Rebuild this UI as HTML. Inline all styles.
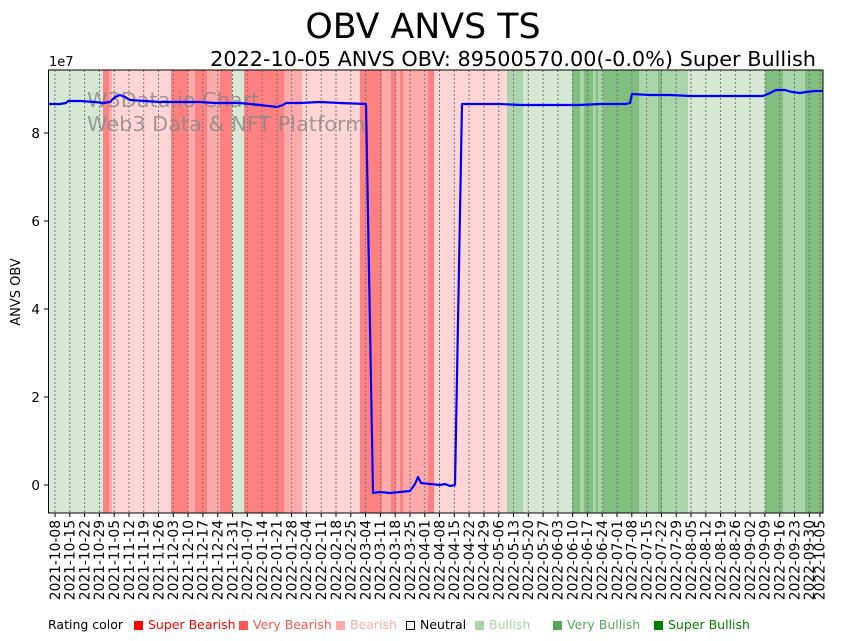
<!DOCTYPE html>
<html><head><meta charset="utf-8"><style>
html,body{margin:0;padding:0;background:#fff;}
svg{display:block;font-family:"DejaVu Sans","Liberation Sans",sans-serif;}
</style></head><body>
<svg width="842" height="641" viewBox="0 0 842 641" xmlns="http://www.w3.org/2000/svg">
<text x="423" y="38" font-size="34.8" text-anchor="middle">OBV ANVS TS</text>
<text x="816" y="66" font-size="20.8" text-anchor="end">2022-10-05 ANVS OBV: 89500570.00(-0.0%) Super Bullish</text>
<g>
<rect x="48" y="70" width="55" height="443" fill="#d5e8d4"/>
<rect x="103" y="70" width="6" height="443" fill="#ff8080"/>
<rect x="109" y="70" width="3" height="443" fill="#ffaaaa"/>
<rect x="112" y="70" width="59" height="443" fill="#ffd5d5"/>
<rect x="171" y="70" width="17" height="443" fill="#ff8080"/>
<rect x="188" y="70" width="7" height="443" fill="#ffaaaa"/>
<rect x="195" y="70" width="12" height="443" fill="#ff8080"/>
<rect x="207" y="70" width="13" height="443" fill="#ffaaaa"/>
<rect x="220" y="70" width="12" height="443" fill="#ff8080"/>
<rect x="232" y="70" width="12" height="443" fill="#d5e8d4"/>
<rect x="244" y="70" width="40" height="443" fill="#ff8080"/>
<rect x="284" y="70" width="18" height="443" fill="#ffaaaa"/>
<rect x="302" y="70" width="58" height="443" fill="#ffd5d5"/>
<rect x="360" y="70" width="22" height="443" fill="#ff8080"/>
<rect x="382" y="70" width="9" height="443" fill="#ffaaaa"/>
<rect x="391" y="70" width="5" height="443" fill="#ff8080"/>
<rect x="396" y="70" width="4" height="443" fill="#ffaaaa"/>
<rect x="400" y="70" width="3" height="443" fill="#ff8080"/>
<rect x="403" y="70" width="25" height="443" fill="#ffaaaa"/>
<rect x="428" y="70" width="6" height="443" fill="#ff8080"/>
<rect x="434" y="70" width="73" height="443" fill="#ffd5d5"/>
<rect x="507" y="70" width="16" height="443" fill="#aad4aa"/>
<rect x="523" y="70" width="49" height="443" fill="#d5e8d4"/>
<rect x="572" y="70" width="8" height="443" fill="#80bf80"/>
<rect x="580" y="70" width="4" height="443" fill="#aad4aa"/>
<rect x="584" y="70" width="9" height="443" fill="#80bf80"/>
<rect x="593" y="70" width="3" height="443" fill="#aad4aa"/>
<rect x="596" y="70" width="2" height="443" fill="#80bf80"/>
<rect x="598" y="70" width="5" height="443" fill="#aad4aa"/>
<rect x="603" y="70" width="36" height="443" fill="#80bf80"/>
<rect x="639" y="70" width="19" height="443" fill="#aad4aa"/>
<rect x="658" y="70" width="4" height="443" fill="#80bf80"/>
<rect x="662" y="70" width="26" height="443" fill="#aad4aa"/>
<rect x="688" y="70" width="77" height="443" fill="#d5e8d4"/>
<rect x="765" y="70" width="18" height="443" fill="#80bf80"/>
<rect x="783" y="70" width="22" height="443" fill="#aad4aa"/>
<rect x="805" y="70" width="18" height="443" fill="#80bf80"/>
</g>
<g stroke="#777" stroke-width="1" stroke-dasharray="2,2">
<path d="M55 70V513M69.8 70V513M84.6 70V513M99.4 70V513M114.2 70V513M129 70V513M143.7 70V513M158.5 70V513M173.3 70V513M188.1 70V513M202.9 70V513M217.7 70V513M232.5 70V513M247.3 70V513M262.1 70V513M276.9 70V513M291.6 70V513M306.4 70V513M321.2 70V513M336 70V513M350.8 70V513M365.6 70V513M380.4 70V513M395.2 70V513M410 70V513M424.8 70V513M439.5 70V513M454.3 70V513M469.1 70V513M483.9 70V513M498.7 70V513M513.5 70V513M528.3 70V513M543.1 70V513M557.9 70V513M572.7 70V513M587.4 70V513M602.2 70V513M617 70V513M631.8 70V513M646.6 70V513M661.4 70V513M676.2 70V513M691 70V513M705.8 70V513M720.6 70V513M735.3 70V513M750.1 70V513M764.9 70V513M779.7 70V513M794.5 70V513M809.3 70V513M819.9 70V513"/>
</g>
<text x="87" y="107" font-size="20.8" fill="#888" fill-opacity="0.8">W3Data.io Chart</text>
<text x="87" y="131" font-size="20.8" fill="#888" fill-opacity="0.8">Web3 Data &amp; NFT Platform</text>
<polyline fill="none" stroke="#0000ff" stroke-width="2.2" stroke-linejoin="round" points="48,104 60,104 66,103 68,101 80,101 95,102 103,103 110,102 115,97 120,95 125,97 130,100 145,101 160,102 180,102 200,102 215,103 240,103 260,105 277,107 283,105 286,103 300,103 320,102 340,103 366,104 373,493 380,492 390,493 400,492 410,491 415,484 418,477 421,483 430,484 440,485 445,484 450,486 455,485 462,104 480,104 500,104 520,105 540,105 560,105 580,105 600,104 625,104 630,103 632,94 650,95 670,95 690,96 710,96 730,96 750,96 763,96 770,93 776,90 785,90 792,92 800,93 806,92 815,91 823,91"/>
<rect x="48.5" y="70" width="774.5" height="443" fill="none" stroke="#000" stroke-width="1"/>
<g stroke="#000" stroke-width="1">
<path d="M44 485H48M44 397H48M44 309H48M44 221H48M44 133H48"/>
</g>
<g font-size="13.5" text-anchor="end">
<text x="40" y="490">0</text><text x="40" y="402">2</text><text x="40" y="314">4</text><text x="40" y="226">6</text><text x="40" y="138">8</text>
</g>
<text x="49" y="66" font-size="13">1e7</text>
<text transform="translate(20,292) rotate(-90)" font-size="13" text-anchor="middle">ANVS OBV</text>
<g stroke="#000"><path d="M55 513v4M69.8 513v4M84.6 513v4M99.4 513v4M114.2 513v4M129 513v4M143.7 513v4M158.5 513v4M173.3 513v4M188.1 513v4M202.9 513v4M217.7 513v4M232.5 513v4M247.3 513v4M262.1 513v4M276.9 513v4M291.6 513v4M306.4 513v4M321.2 513v4M336 513v4M350.8 513v4M365.6 513v4M380.4 513v4M395.2 513v4M410 513v4M424.8 513v4M439.5 513v4M454.3 513v4M469.1 513v4M483.9 513v4M498.7 513v4M513.5 513v4M528.3 513v4M543.1 513v4M557.9 513v4M572.7 513v4M587.4 513v4M602.2 513v4M617 513v4M631.8 513v4M646.6 513v4M661.4 513v4M676.2 513v4M691 513v4M705.8 513v4M720.6 513v4M735.3 513v4M750.1 513v4M764.9 513v4M779.7 513v4M794.5 513v4M809.3 513v4M819.9 513v4"/></g>
<g font-size="13.8" text-anchor="end">
<text transform="translate(59.8,520) rotate(-90)">2021-10-08</text>
<text transform="translate(74.6,520) rotate(-90)">2021-10-15</text>
<text transform="translate(89.4,520) rotate(-90)">2021-10-22</text>
<text transform="translate(104.2,520) rotate(-90)">2021-10-29</text>
<text transform="translate(119,520) rotate(-90)">2021-11-05</text>
<text transform="translate(133.8,520) rotate(-90)">2021-11-12</text>
<text transform="translate(148.5,520) rotate(-90)">2021-11-19</text>
<text transform="translate(163.3,520) rotate(-90)">2021-11-26</text>
<text transform="translate(178.1,520) rotate(-90)">2021-12-03</text>
<text transform="translate(192.9,520) rotate(-90)">2021-12-10</text>
<text transform="translate(207.7,520) rotate(-90)">2021-12-17</text>
<text transform="translate(222.5,520) rotate(-90)">2021-12-24</text>
<text transform="translate(237.3,520) rotate(-90)">2021-12-31</text>
<text transform="translate(252.1,520) rotate(-90)">2022-01-07</text>
<text transform="translate(266.9,520) rotate(-90)">2022-01-14</text>
<text transform="translate(281.7,520) rotate(-90)">2022-01-21</text>
<text transform="translate(296.4,520) rotate(-90)">2022-01-28</text>
<text transform="translate(311.2,520) rotate(-90)">2022-02-04</text>
<text transform="translate(326,520) rotate(-90)">2022-02-11</text>
<text transform="translate(340.8,520) rotate(-90)">2022-02-18</text>
<text transform="translate(355.6,520) rotate(-90)">2022-02-25</text>
<text transform="translate(370.4,520) rotate(-90)">2022-03-04</text>
<text transform="translate(385.2,520) rotate(-90)">2022-03-11</text>
<text transform="translate(400,520) rotate(-90)">2022-03-18</text>
<text transform="translate(414.8,520) rotate(-90)">2022-03-25</text>
<text transform="translate(429.6,520) rotate(-90)">2022-04-01</text>
<text transform="translate(444.3,520) rotate(-90)">2022-04-08</text>
<text transform="translate(459.1,520) rotate(-90)">2022-04-15</text>
<text transform="translate(473.9,520) rotate(-90)">2022-04-22</text>
<text transform="translate(488.7,520) rotate(-90)">2022-04-29</text>
<text transform="translate(503.5,520) rotate(-90)">2022-05-06</text>
<text transform="translate(518.3,520) rotate(-90)">2022-05-13</text>
<text transform="translate(533.1,520) rotate(-90)">2022-05-20</text>
<text transform="translate(547.9,520) rotate(-90)">2022-05-27</text>
<text transform="translate(562.7,520) rotate(-90)">2022-06-03</text>
<text transform="translate(577.5,520) rotate(-90)">2022-06-10</text>
<text transform="translate(592.2,520) rotate(-90)">2022-06-17</text>
<text transform="translate(607,520) rotate(-90)">2022-06-24</text>
<text transform="translate(621.8,520) rotate(-90)">2022-07-01</text>
<text transform="translate(636.6,520) rotate(-90)">2022-07-08</text>
<text transform="translate(651.4,520) rotate(-90)">2022-07-15</text>
<text transform="translate(666.2,520) rotate(-90)">2022-07-22</text>
<text transform="translate(681,520) rotate(-90)">2022-07-29</text>
<text transform="translate(695.8,520) rotate(-90)">2022-08-05</text>
<text transform="translate(710.6,520) rotate(-90)">2022-08-12</text>
<text transform="translate(725.4,520) rotate(-90)">2022-08-19</text>
<text transform="translate(740.1,520) rotate(-90)">2022-08-26</text>
<text transform="translate(754.9,520) rotate(-90)">2022-09-02</text>
<text transform="translate(769.7,520) rotate(-90)">2022-09-09</text>
<text transform="translate(784.5,520) rotate(-90)">2022-09-16</text>
<text transform="translate(799.3,520) rotate(-90)">2022-09-23</text>
<text transform="translate(814.1,520) rotate(-90)">2022-09-30</text>
<text transform="translate(824.7,520) rotate(-90)">2022-10-05</text>
</g>
<g font-size="12.5">
<text x="48" y="629">Rating color</text>
<rect x="134" y="621" width="9" height="9" fill="#ff0000"/><text x="148" y="629" fill="#ff0000">Super Bearish</text>
<rect x="239" y="621" width="9" height="9" fill="#ff5555"/><text x="253" y="629" fill="#ff5555">Very Bearish</text>
<rect x="336" y="621" width="9" height="9" fill="#ffaaaa"/><text x="350" y="629" fill="#ffaaaa">Bearish</text>
<rect x="406.5" y="621.5" width="8" height="8" fill="#fff" stroke="#000"/><text x="420" y="629">Neutral</text>
<rect x="475" y="621" width="9" height="9" fill="#aad4aa"/><text x="489" y="629" fill="#aad4aa">Bullish</text>
<rect x="553" y="621" width="9" height="9" fill="#55aa55"/><text x="567" y="629" fill="#55aa55">Very Bullish</text>
<rect x="654" y="621" width="9" height="9" fill="#008000"/><text x="668" y="629" fill="#008000">Super Bullish</text>
</g>
</svg>
</body></html>
